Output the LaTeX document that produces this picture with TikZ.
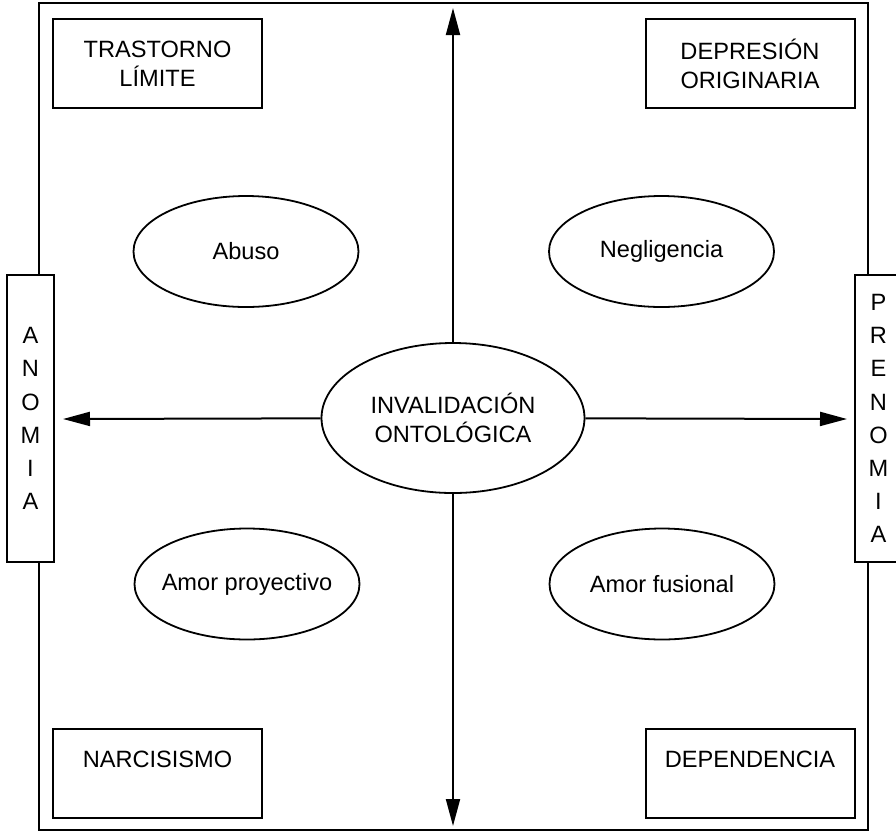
\documentclass[tikz,border=0pt]{standalone}
\usepackage{fontspec}
\setmainfont{Liberation Sans}
\usetikzlibrary{arrows.meta,shapes.geometric}

\begin{document}
\begin{tikzpicture}[line join=miter,x=0.5pt,y=-0.5pt,>={Triangle[length=13.5pt,width=7pt]},
        font=\fontsize{11.8pt}{14.5pt}\selectfont,
        caja/.style={draw,line width=1pt,fill=white,rectangle,minimum width=104.5pt,minimum height=44.5pt,inner sep=0pt,align=center},
        lado/.style={draw,line width=1pt,fill=white,rectangle,minimum width=23.5pt,minimum height=143.5pt,inner sep=0pt,align=center,font=\fontsize{11.8pt}{16.6pt}\selectfont},
        elipse/.style={draw,line width=0.9pt,ellipse,minimum width=112.5pt,minimum height=55.5pt,inner sep=0pt,inner xsep=-5pt,align=center}]
        \useasboundingbox (0,0) rectangle (896,832);
        \draw[line width=1pt] (39,3) rectangle (868,830);
        % cuadrantes
        \node[caja] (limite) at (157.5,63.5) {TRASTORNO\\LÍMITE};
        \node[caja] (depresion) at (750,63.5) {DEPRESIÓN\\ORIGINARIA};
        \node[caja] (narcisismo) at (157.5,773.5) {NARCISISMO\\~};
        \node[caja] (dependencia) at (750,773.5) {DEPENDENCIA\\~};
        % laterales
        \node[lado] (anomia) at (30.5,418.5) {A\\N\\O\\M\\I\\A};
        \node[lado] (prenomia) at (878.5,418.5) {P\\R\\E\\N\\O\\M\\I\\A};
        % elipses
        \node[elipse] (abuso) at (246,251.5) {Abuso};
        \node[elipse] (negligencia) at (661.5,251.5) {Negligencia};
        \node[elipse] (proyectivo) at (247,584) {Amor proyectivo};
        \node[elipse] (fusional) at (662,584) {Amor fusional};
        \node[elipse,minimum width=131.5pt,minimum height=75pt] (invalidacion) at (453,418) {INVALIDACIÓN\\ONTOLÓGICA};
        % ejes
        \coordinate (arriba) at (453,8);
        \coordinate (abajo) at (453,826);
        \coordinate (izq) at (63,419);
        \coordinate (der) at (847,419);
        \draw[->,line width=1pt] (invalidacion) -- (arriba);
        \draw[->,line width=1pt] (invalidacion) -- (abajo);
        \draw[->,line width=1pt] (invalidacion) -- (izq);
        \draw[->,line width=1pt] (invalidacion) -- (der);
    \end{tikzpicture}
\end{document}
